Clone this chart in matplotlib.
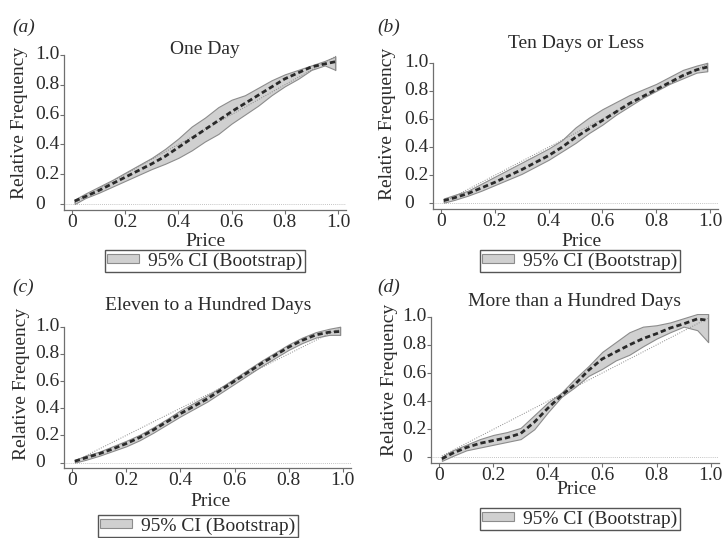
import matplotlib
matplotlib.use("Agg")
import matplotlib.pyplot as plt
from matplotlib.patches import Patch

plt.rcParams['font.family'] = ['Liberation Serif', 'DejaVu Serif']
plt.rcParams['font.size'] = 14

# ---------------- data ----------------
price = [0.01, 0.05, 0.10, 0.15, 0.20, 0.25, 0.30, 0.35, 0.40, 0.45, 0.50,
         0.55, 0.60, 0.65, 0.70, 0.75, 0.80, 0.85, 0.90, 0.95, 0.99]

titles = ["One Day", "Ten Days or Less", "Eleven to a Hundred Days",
          "More than a Hundred Days"]
panel_tags = ["(a)", "(b)", "(c)", "(d)"]

mean_a = [0.02, 0.05, 0.09, 0.135, 0.18, 0.225, 0.27, 0.32, 0.38, 0.44, 0.50,
          0.56, 0.62, 0.675, 0.73, 0.785, 0.84, 0.88, 0.92, 0.94, 0.955]
upper_a = [0.03, 0.07, 0.115, 0.16, 0.21, 0.26, 0.31, 0.37, 0.44, 0.52, 0.58,
           0.65, 0.70, 0.73, 0.78, 0.83, 0.87, 0.90, 0.93, 0.96, 0.99]
lower_a = [0.00, 0.04, 0.075, 0.115, 0.155, 0.195, 0.235, 0.27, 0.31, 0.36, 0.42,
           0.47, 0.54, 0.60, 0.66, 0.73, 0.79, 0.84, 0.90, 0.93, 0.90]

mean_b = [0.02, 0.04, 0.07, 0.11, 0.15, 0.195, 0.24, 0.29, 0.34, 0.40, 0.47,
          0.53, 0.59, 0.65, 0.71, 0.76, 0.81, 0.86, 0.91, 0.95, 0.97]
upper_b = [0.035, 0.06, 0.09, 0.14, 0.19, 0.24, 0.29, 0.34, 0.39, 0.45, 0.54,
           0.61, 0.67, 0.72, 0.77, 0.81, 0.85, 0.90, 0.95, 0.98, 1.00]
lower_b = [0.005, 0.025, 0.055, 0.09, 0.13, 0.17, 0.21, 0.26, 0.31, 0.37, 0.43,
           0.50, 0.56, 0.63, 0.69, 0.75, 0.80, 0.85, 0.89, 0.93, 0.94]

mean_c = [0.01, 0.035, 0.065, 0.10, 0.14, 0.185, 0.24, 0.30, 0.36, 0.415, 0.47,
          0.535, 0.60, 0.665, 0.73, 0.79, 0.85, 0.90, 0.94, 0.96, 0.965]
upper_c = [0.02, 0.05, 0.08, 0.12, 0.16, 0.205, 0.26, 0.32, 0.385, 0.44, 0.495,
           0.555, 0.62, 0.685, 0.75, 0.81, 0.87, 0.92, 0.96, 0.985, 1.00]
lower_c = [0.00, 0.02, 0.05, 0.085, 0.12, 0.165, 0.22, 0.28, 0.34, 0.395, 0.45,
           0.515, 0.58, 0.645, 0.71, 0.77, 0.83, 0.88, 0.92, 0.94, 0.94]

mean_d = [-0.01, 0.03, 0.07, 0.10, 0.12, 0.14, 0.17, 0.25, 0.35, 0.44, 0.52,
          0.62, 0.70, 0.75, 0.80, 0.845, 0.88, 0.92, 0.95, 0.985, 0.975]
upper_d = [0.005, 0.05, 0.09, 0.13, 0.16, 0.18, 0.21, 0.30, 0.39, 0.46, 0.56,
           0.65, 0.75, 0.82, 0.89, 0.93, 0.94, 0.96, 0.99, 1.02, 1.02]
lower_d = [-0.025, 0.01, 0.05, 0.07, 0.09, 0.11, 0.13, 0.20, 0.32, 0.43, 0.50,
           0.58, 0.63, 0.69, 0.73, 0.79, 0.845, 0.89, 0.93, 0.905, 0.82]

diag_x = [0.01, 0.99]
diag_y = [0.01, 0.99]

xticks = [0, 0.2, 0.4, 0.6, 0.8, 1.0]
xtick_labels = ["0", "0.2", "0.4", "0.6", "0.8", "1.0"]
yticks = [0, 0.2, 0.4, 0.6, 0.8, 1.0]
ytick_labels = ["0", "0.2", "0.4", "0.6", "0.8", "1.0"]

means = [mean_a, mean_b, mean_c, mean_d]
uppers = [upper_a, upper_b, upper_c, upper_d]
lowers = [lower_a, lower_b, lower_c, lower_d]

# ---------------- layout (pixels) ----------------
W, H = 722, 538
fig = plt.figure(figsize=(W / 100, H / 100), dpi=100)

TXT = '#2b2b2b'
SP = '#6f6f6f'

def fx(px):
    return px / W

def fy(py):
    return 1 - py / H

# [left, top, right, bottom] in pixels
boxes = [(64, 52, 346, 210), (433, 60, 718, 209),
         (64, 324, 351, 468), (431, 314, 719, 463)]
tag_pos = [(12, 27), (377, 27), (12, 287), (377, 287)]
title_pos = [(205, 50), (576, 43), (208, 306), (574, 302)]
xlab_pos = [(205, 242), (581, 242), (210, 502), (576, 490)]
ylab_pos = [(20, 123), (388, 124), (22, 384), (389, 380)]
leg_pos = [(205, 250), (580, 250), (198, 515), (580, 508)]

for i in range(4):
    l, t, r, b = boxes[i]
    ax = fig.add_axes([fx(l), fy(b), (r - l) / W, (b - t) / H])
    ax.set_xlim(-0.03, 1.03)
    ax.set_ylim(-0.04, 1.02)
    for s in ['top', 'right']:
        ax.spines[s].set_visible(False)
    for s in ['left', 'bottom']:
        ax.spines[s].set_color(SP)
        ax.spines[s].set_linewidth(0.9)
    ax.spines['left'].set_bounds(-0.04, 1.0)
    ax.set_xticks(xticks)
    ax.set_xticklabels(xtick_labels)
    ax.set_yticks(yticks)
    ax.set_yticklabels(ytick_labels)
    ax.tick_params(axis='both', colors=SP, labelcolor=TXT, length=3,
                   width=0.8, labelsize=14)
    ax.tick_params(axis='x', pad=0)
    ax.tick_params(axis='y', pad=18)
    for lab in ax.get_yticklabels():
        lab.set_horizontalalignment('left')
        lab.set_verticalalignment('center')

    ax.axhline(0, color='#b0b0b0', lw=0.6, ls=(0, (1, 1.5)), zorder=1)
    ax.plot(diag_x, diag_y, color='#8a8a8a', lw=0.7, ls=(0, (1, 1.5)), zorder=3)
    ax.fill_between(price, lowers[i], uppers[i], facecolor='#d0d0d0',
                    edgecolor='#8c8c8c', linewidth=0.8, zorder=2)
    ax.plot([price[-1], price[-1]], [lowers[i][-1], uppers[i][-1]],
            color='#8c8c8c', lw=0.8, zorder=2)
    ax.plot(price, means[i], color='#2a2a2a', lw=2.0,
            ls=(0, (1.9, 1.1)), zorder=4)

    fig.text(fx(tag_pos[i][0]), fy(tag_pos[i][1]), panel_tags[i],
             style='italic', fontsize=14, color=TXT, ha='left', va='center')
    fig.text(fx(title_pos[i][0]), fy(title_pos[i][1]), titles[i],
             fontsize=14, color=TXT, ha='center', va='center')
    fig.text(fx(xlab_pos[i][0]), fy(xlab_pos[i][1]), "Price",
             fontsize=14, color=TXT, ha='center', va='center')
    fig.text(fx(ylab_pos[i][0]), fy(ylab_pos[i][1]), "Relative Frequency",
             fontsize=14, color=TXT, ha='center', va='center', rotation=90)

    handle = Patch(facecolor='#d0d0d0', edgecolor='#8c8c8c', linewidth=0.8)
    leg = fig.legend([handle], ["95% CI (Bootstrap)"], loc='upper center',
                     bbox_to_anchor=(fx(leg_pos[i][0]), fy(leg_pos[i][1])),
                     bbox_transform=fig.transFigure, fancybox=False,
                     framealpha=1, edgecolor='#555555', fontsize=14,
                     handlelength=1.6, handleheight=0.35, handletextpad=0.5,
                     borderpad=0.12, borderaxespad=0)
    leg.get_frame().set_linewidth(1.0)
    for tx in leg.get_texts():
        tx.set_color(TXT)

fig.savefig("out.png", dpi=100)
